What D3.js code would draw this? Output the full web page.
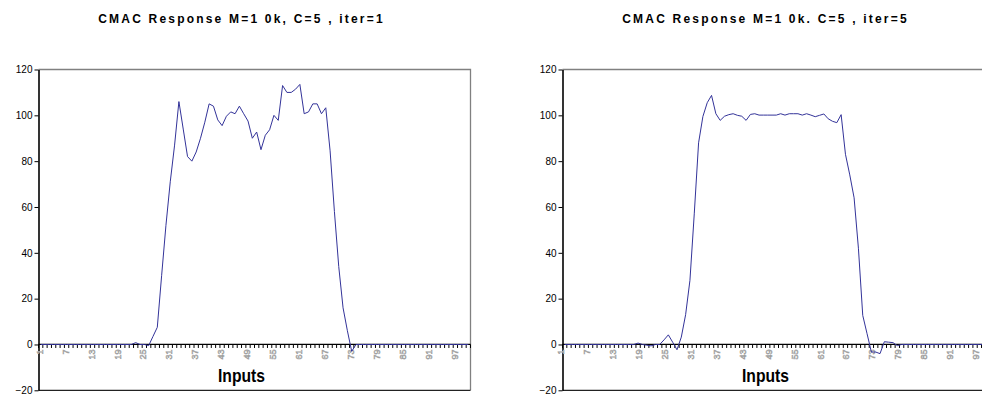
<!DOCTYPE html>
<html>
<head>
<meta charset="utf-8">
<script src="https://cdn.jsdelivr.net/npm/d3@7"></script>
<style>
  body { margin: 0; background: #fff; }
  text { font-family: "Liberation Sans", Arial, sans-serif; }
</style>
</head>
<body>
<svg></svg>
<script>
var width = 982,
    height = 396;

// categories: input index 1..100
var inputs = d3.range(1, 101);
var tickInputs = [1, 7, 13, 19, 25, 31, 37, 43, 49, 55, 61, 67, 73, 79, 85, 91, 97];
var yTicks = [-20, 0, 20, 40, 60, 80, 100, 120];

var titles = ["CMAC Response M=1 0k, C=5 , iter=1", "CMAC Response M=1 0k. C=5 , iter=5"];

// response after 1 iteration
var iter1 = [
  0, 0, 0, 0, 0, 0, 0, 0, 0, 0,
  0, 0, 0, 0, 0, 0, 0, 0, 0, 0,
  0, 0, 0.8, 0, 0, -0.5, 3.5, 7.5, 30, 52,
  71, 87, 106, 94, 82, 80, 84, 90, 97, 105,
  104, 98, 95.5, 99.6, 101.5, 100.7, 104, 100.7, 97.5, 90,
  92.7, 85, 91.3, 93.7, 100, 97.8, 113, 110, 110, 111.4,
  113.5, 100.7, 101.5, 105, 105, 100.7, 103.3, 84.5, 58, 34,
  16, 6, -3, 0, 0, 0, 0, 0, 0, 0,
  0, 0, 0, 0, 0, 0, 0, 0, 0, 0,
  0, 0, 0, 0, 0, 0, 0, 0, 0, 0
];

// response after 5 iterations
var iter5 = [
  0, 0, 0, 0, 0, 0, 0, 0, 0, 0,
  0, 0, 0, 0, 0, 0, 0, 0.6, 0, -0.3,
  -0.6, 0, 0, 2, 4.2, 1, -2.3, 3.2, 13, 28,
  57, 88, 99.5, 105.5, 108.7, 100.7, 97.8, 99.6, 100.3, 100.7,
  100, 99.6, 97.8, 100.4, 100.7, 100.1, 100.1, 100.1, 100.1, 100.1,
  100.7, 100.1, 100.7, 100.7, 100.7, 100.1, 100.7, 100.1, 99.4, 100,
  100.6, 98.5, 97.4, 96.8, 100.3, 83, 74, 64, 42, 12.7,
  4.7, -3.3, -3.3, -4, 1.2, 1, 0.8, -0.5, 0, 0,
  0, 0, 0, 0, 0, 0, 0, 0, 0, 0,
  0, 0, 0, 0, 0, 0, 0, 0, 0, 0
];

var svg = d3.select("svg")
    .attr("width", width)
    .attr("height", height);

var plotTop = 69.5,
    plotBottom = 390.3,
    plotWidth = 432;

var y = d3.scaleLinear()
    .domain([-20, 120])
    .range([plotBottom, plotTop]);

drawChart(38.5, titles[0], iter1, 0);
drawChart(562.5, titles[1], iter5, -2.5);

function drawChart(x0, title, values, labelShift) {
  var g = svg.append("g");

  var x = d3.scaleBand()
      .domain(inputs)
      .range([x0, x0 + plotWidth]);
  var step = x.step();
  var cx = function(d) { return x(d) + step / 2; };

  //title
  g.append("text")
    .attr("x", x0 + plotWidth / 2 - 13)
    .attr("y", 23)
    .attr("text-anchor", "middle")
    .style("font-size", "12px")
    .style("font-weight", "bold")
    .style("letter-spacing", "2.2px")
    .text(title);

  //plot area border (top, right, bottom)
  g.append("path")
    .attr("d", "M" + x0 + "," + plotTop + "H" + (x0 + plotWidth) + "V" + plotBottom)
    .attr("fill", "none")
    .attr("stroke", "#808080")
    .attr("stroke-width", 1.3);
  g.append("line")
    .attr("x1", x0).attr("x2", x0 + plotWidth)
    .attr("y1", plotBottom).attr("y2", plotBottom)
    .attr("stroke", "#222")
    .attr("stroke-width", 1.2);

  //y axis
  var yAxis = g.append("g")
    .attr("transform", "translate(" + x0 + ",0)")
    .call(d3.axisLeft(y).tickValues(yTicks).tickSize(4).tickSizeOuter(0).tickPadding(2));
  yAxis.select(".domain").attr("stroke", "#000").attr("stroke-width", 1.6);
  yAxis.selectAll(".tick line").attr("stroke", "#000");
  yAxis.selectAll(".tick text")
    .attr("fill", "#000")
    .style("font-size", "10px")
    .style("font-family", "'Liberation Sans', Arial, sans-serif");

  //x axis at zero, ticks on category boundaries
  var y0 = y(0);
  g.append("line")
    .attr("x1", x0).attr("x2", x0 + plotWidth)
    .attr("y1", y0).attr("y2", y0)
    .attr("stroke", "#000")
    .attr("stroke-width", 1.2);
  g.selectAll(".xtick")
      .data(inputs.concat([null]))
    .enter().append("line")
      .attr("class", "xtick")
      .attr("x1", function(d) { return d === null ? x0 + plotWidth : x(d); })
      .attr("x2", function(d) { return d === null ? x0 + plotWidth : x(d); })
      .attr("y1", y0)
      .attr("y2", y0 + 3.5)
      .attr("stroke", "#000")
      .attr("stroke-width", 1);

  //rotated hollow grey tick labels
  g.selectAll(".xlabel")
      .data(tickInputs)
    .enter().append("text")
      .attr("class", "xlabel")
      .attr("transform", function(d) { return "translate(" + (cx(d) - 1 + labelShift) + "," + (y0 + 5) + ") rotate(-90)"; })
      .attr("dy", "0.35em")
      .attr("text-anchor", "end")
      .attr("fill", "#fff")
      .attr("stroke", "#a0a0a0")
      .attr("stroke-width", 0.6)
      .style("font-size", "9px")
      .text(function(d) { return d; });

  //axis title
  g.append("text")
    .attr("x", x0 + plotWidth / 2 - 13)
    .attr("y", 382)
    .attr("text-anchor", "middle")
    .attr("textLength", 47)
    .attr("lengthAdjust", "spacingAndGlyphs")
    .style("font-family", "'Liberation Sans Narrow', 'Liberation Sans', Arial, sans-serif")
    .style("font-size", "18px")
    .style("font-weight", "bold")
    .text("Inputs");

  //response line
  var line = d3.line()
    .x(function(d, i) { return cx(inputs[i]); })
    .y(function(d) { return y(d); });

  g.append("path")
    .datum(values)
    .attr("d", line)
    .attr("fill", "none")
    .attr("stroke", "#333399")
    .attr("stroke-width", 1);
}
</script>
</body>
</html>
